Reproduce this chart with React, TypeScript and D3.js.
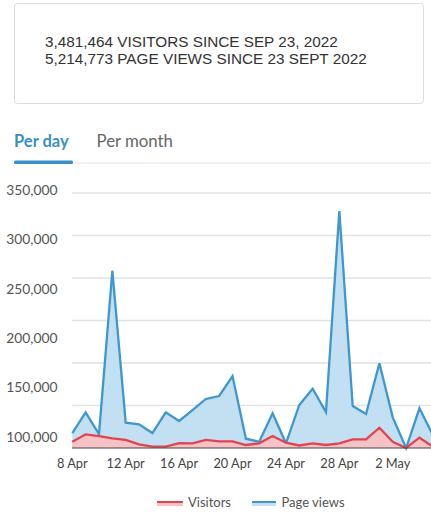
import React from "react";
import * as d3 from "d3";

const dates: string[] = [
  "2023-04-08","2023-04-09","2023-04-10","2023-04-11","2023-04-12","2023-04-13","2023-04-14",
  "2023-04-15","2023-04-16","2023-04-17","2023-04-18","2023-04-19","2023-04-20","2023-04-21",
  "2023-04-22","2023-04-23","2023-04-24","2023-04-25","2023-04-26","2023-04-27","2023-04-28",
  "2023-04-29","2023-04-30","2023-05-01","2023-05-02","2023-05-03","2023-05-04","2023-05-05",
];
const pageViews: number[] = [
  104000,125000,103000,268300,114500,112900,104000,125000,116200,127300,138500,141500,161700,98300,
  95200,124000,93600,132400,148900,125300,328700,131400,123300,174600,119900,88870,129000,102000,
];
const visitors: number[] = [
  95200,102700,101000,98700,97000,92600,90200,90200,93900,93600,97000,95600,95600,91900,
  93600,101000,94200,91400,93600,91900,93600,97700,97700,109400,95200,88870,99300,90200,
];
const yTickValues: number[] = [350000, 300000, 250000, 200000, 150000, 100000];
const xTickDates: string[] = ["2023-04-08","2023-04-12","2023-04-16","2023-04-20","2023-04-24","2023-04-28","2023-05-02"];
const gridLineCount = 7;
const headerLines: string[] = [
  "3,481,464 VISITORS SINCE SEP 23, 2022",
  "5,214,773 PAGE VIEWS SINCE 23 SEPT 2022",
];
const tabs: string[] = ["Per day", "Per month"];
const legendItems: string[] = ["Visitors", "Page views"];

const W = 431, H = 518;
const BLUE = "#3f97cf";
const BLUE_FILL = "#c3dff2";
const RED = "#e2434f";
const RED_FILL = "#f5c2c6";
const LABEL_FONT = "Lato, 'Open Sans', sans-serif";

export default function App() {
  const parse = d3.utcParse("%Y-%m-%d");
  const pts = dates.map((d, i) => ({ date: parse(d) as Date, pv: pageViews[i], v: visitors[i] }));
  const x = d3.scaleUtc().domain([pts[0].date, pts[pts.length - 1].date]).range([72.3, 432.8]);
  const y = d3.scaleLinear().domain([88870, 350000]).range([448, 190]);
  const grid = d3.scaleLinear().domain([0, gridLineCount - 1]).range([448, 193]);
  const base = y.domain()[0];

  const area = (key: "pv" | "v") =>
    d3.area<typeof pts[0]>().x(d => x(d.date)).y0(y(base)).y1(d => y(d[key]))(pts) || "";
  const line = (key: "pv" | "v") =>
    d3.line<typeof pts[0]>().x(d => x(d.date)).y(d => y(d[key]))(pts) || "";
  const fmt = d3.format(",");
  const xFmt = (d: Date) => `${d.getUTCDate()} ${d3.utcFormat("%b")(d)}`;

  return (
    <svg width={W} height={H} style={{ position: "absolute", left: 0, top: 0, background: "#fff" }}>
      <rect x={0} y={0} width={W} height={H} fill="#fff" />
      {/* header box */}
      <rect x={14.5} y={3.5} width={409} height={100} rx={3} fill="#fff" stroke="#dcdcdc" strokeWidth={1} />
      {headerLines.map((t, i) => (
        <text key={t} x={45} y={46.7 + i * 17.5} fontFamily="'Liberation Sans', Arial, sans-serif"
          fontSize={15.3} fill="#333">{t}</text>
      ))}
      {/* tabs */}
      <text x={14} y={147} fontFamily={LABEL_FONT} fontSize={16.5} fontWeight={700} fill="#3a8fc8">{tabs[0]}</text>
      <text x={96.5} y={147} fontFamily={LABEL_FONT} fontSize={16.8} fill="#666">{tabs[1]}</text>
      <line x1={14} x2={W} y1={163} y2={163} stroke="#e3e3e3" strokeWidth={1} />
      <rect x={14} y={160.5} width={59} height={3.5} rx={1.5} fill="#3a8fc8" />

      {/* grid */}
      {d3.range(gridLineCount).slice(1).map(i => (
        <line key={i} x1={72} x2={W} y1={grid(i)} y2={grid(i)} stroke="#e2e2e2" strokeWidth={1.5} />
      ))}
      {yTickValues.map(v => (
        <text key={v} x={57.5} y={y(v)} dy="0.35em" textAnchor="end" fontFamily={LABEL_FONT}
          fontSize={13.8} fill="#555">{fmt(v)}</text>
      ))}

      {/* series */}
      <path d={area("pv")} fill={BLUE_FILL} />
      <path d={line("pv")} fill="none" stroke={BLUE} strokeWidth={2.3} />
      <path d={area("v")} fill={RED_FILL} />
      <path d={line("v")} fill="none" stroke={RED} strokeWidth={2.3} />
      <line x1={72} x2={W} y1={grid(0)} y2={grid(0)} stroke="#444" strokeWidth={1.2} />

      {xTickDates.map(s => {
        const d = parse(s) as Date;
        return (
          <text key={s} x={x(d)} y={468} textAnchor="middle" fontFamily={LABEL_FONT} fontSize={12.8} fill="#444">
            {xFmt(d)}
          </text>
        );
      })}

      {/* legend */}
      <g>
        <rect x={157} y={502} width={26} height={4} fill={RED_FILL} />
        <line x1={157} x2={183} y1={502} y2={502} stroke={RED} strokeWidth={2} />
        <text x={188} y={506.5} fontFamily={LABEL_FONT} fontSize={13} fill="#555">{legendItems[0]}</text>
        <rect x={252} y={502} width={24} height={4} fill={BLUE_FILL} />
        <line x1={252} x2={276} y1={502} y2={502} stroke={BLUE} strokeWidth={2} />
        <text x={281.5} y={506.5} fontFamily={LABEL_FONT} fontSize={13} fill="#555">{legendItems[1]}</text>
      </g>
    </svg>
  );
}
